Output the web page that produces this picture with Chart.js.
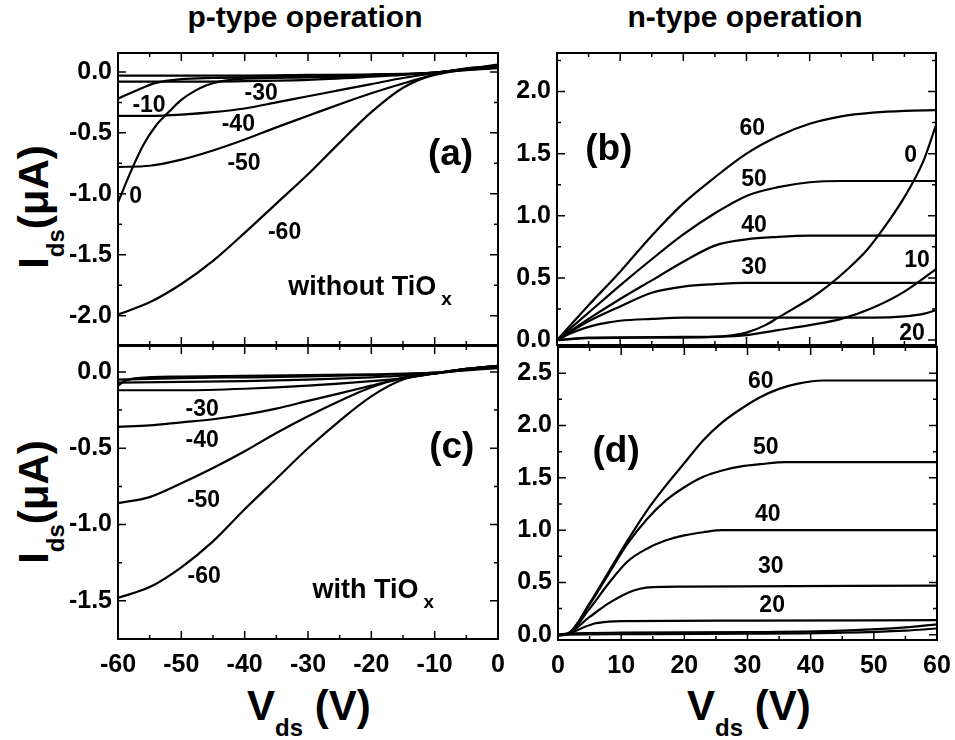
<!DOCTYPE html>
<html>
<head>
<meta charset="utf-8">
<script src="https://cdn.jsdelivr.net/npm/chart.js@4.4.0/dist/chart.umd.min.js"></script>
<style>
  body { margin: 0; background: #fff; width: 955px; height: 740px; position: relative; overflow: hidden;
         font-family: "Liberation Sans", Arial, sans-serif; font-weight: bold; color: #000; }
  canvas { position: absolute; }
  .txt { position: absolute; white-space: nowrap; line-height: 1; }
  .col { font-size: 30px; top: 2px; transform: translateX(-50%); }
  .xt { font-size: 42px; top: 685px; }
  .xt sub, .yt sub { font-size: 24px; vertical-align: -16px; line-height: 0; }
  .yt { font-size: 42px; transform: translate(-50%, -50%) rotate(-90deg); }
</style>
</head>
<body>
<div class="txt col" style="left:305px">p-type operation</div>
<div class="txt col" style="left:745px">n-type operation</div>
<div class="txt yt" style="left:34px; top:207px">I<sub>ds</sub>(&mu;A)</div>
<div class="txt yt" style="left:34px; top:502px">I<sub>ds</sub>(&mu;A)</div>
<div class="txt xt" style="left:247px">V<sub>ds</sub> (V)</div>
<div class="txt xt" style="left:687px">V<sub>ds</sub> (V)</div>

<canvas id="chartA" width="508" height="310" style="left:0; top:40px; width:508px; height:310px"></canvas>
<canvas id="chartC" width="508" height="370" style="left:0; top:335px; width:508px; height:370px"></canvas>
<canvas id="chartB" width="450" height="310" style="left:505px; top:40px; width:450px; height:310px"></canvas>
<canvas id="chartD" width="450" height="370" style="left:505px; top:335px; width:450px; height:370px"></canvas>

<script>
// ---------- data: [Vds, Ids] pairs ----------
// (a) p-type, without TiOx, gate voltages 0 .. -60
var aVg0   = [[-60,-1.07],[-58,-0.82],[-56,-0.6],[-54,-0.44],[-52,-0.33],[-50,-0.23],[-48,-0.16],[-46,-0.11],[-44,-0.08],[-40,-0.055],[-30,-0.045],[-20,-0.03],[-10,-0.005],[-5,0.025],[0,0.06]];
var aVgM10 = [[-60,-0.22],[-57,-0.15],[-54,-0.09],[-50,-0.06],[-45,-0.05],[-40,-0.045],[-30,-0.04],[-20,-0.03],[-10,-0.005],[-5,0.02],[0,0.04]];
var aVgM20 = [[-60,-0.03],[-50,-0.03],[-40,-0.03],[-30,-0.025],[-20,-0.02],[-10,-0.005],[-5,0.015],[0,0.03]];
var aVgM30 = [[-60,-0.08],[-50,-0.08],[-40,-0.075],[-30,-0.065],[-20,-0.04],[-15,-0.025],[-10,-0.005],[-5,0.02],[0,0.04]];
var aVgM40 = [[-60,-0.36],[-55,-0.36],[-50,-0.35],[-45,-0.33],[-40,-0.3],[-35,-0.25],[-30,-0.2],[-25,-0.15],[-20,-0.1],[-15,-0.05],[-10,-0.01],[-5,0.02],[0,0.04]];
var aVgM50 = [[-60,-0.78],[-55,-0.77],[-50,-0.72],[-45,-0.645],[-40,-0.555],[-35,-0.455],[-30,-0.36],[-25,-0.265],[-20,-0.175],[-15,-0.095],[-10,-0.025],[-5,0.02],[0,0.04]];
var aVgM60 = [[-60,-1.99],[-55,-1.89],[-50,-1.74],[-45,-1.55],[-40,-1.32],[-35,-1.08],[-30,-0.84],[-25,-0.58],[-20,-0.33],[-15,-0.13],[-10,-0.02],[-5,0.03],[0,0.05]];

// (c) p-type, with TiOx
var cVg0   = [[-60,-0.09],[-59,-0.06],[-57,-0.04],[-50,-0.03],[-40,-0.025],[-30,-0.02],[-20,-0.015],[-10,-0.005],[-5,0.01],[0,0.025]];
var cVgM10 = [[-60,-0.05],[-50,-0.04],[-40,-0.035],[-30,-0.03],[-20,-0.02],[-10,-0.005],[-5,0.015],[0,0.03]];
var cVgM20 = [[-60,-0.07],[-50,-0.065],[-40,-0.06],[-30,-0.05],[-20,-0.035],[-15,-0.025],[-10,-0.01],[-5,0.015],[0,0.035]];
var cVgM30 = [[-60,-0.12],[-50,-0.12],[-40,-0.11],[-30,-0.09],[-20,-0.06],[-15,-0.04],[-10,-0.01],[-5,0.02],[0,0.04]];
var cVgM40 = [[-60,-0.36],[-55,-0.35],[-50,-0.33],[-45,-0.31],[-40,-0.28],[-35,-0.24],[-30,-0.19],[-25,-0.14],[-20,-0.09],[-15,-0.04],[-10,-0.01],[-5,0.02],[0,0.04]];
var cVgM50 = [[-60,-0.86],[-55,-0.82],[-50,-0.73],[-45,-0.63],[-40,-0.52],[-35,-0.4],[-30,-0.29],[-25,-0.19],[-20,-0.1],[-15,-0.04],[-10,-0.01],[-5,0.02],[0,0.04]];
var cVgM60 = [[-60,-1.48],[-55,-1.41],[-50,-1.28],[-45,-1.11],[-40,-0.9],[-35,-0.7],[-30,-0.5],[-25,-0.32],[-20,-0.16],[-15,-0.05],[-10,-0.01],[-5,0.02],[0,0.04]];

// (b) n-type, without TiOx, gate voltages 0 .. 60
var bVg0  = [[0,0],[5,0.02],[20,0.025],[26,0.03],[28,0.04],[30,0.06],[33,0.12],[35,0.18],[38,0.27],[40,0.33],[43,0.44],[46,0.57],[49,0.72],[52,0.92],[55,1.15],[58,1.44],[60,1.73]];
var bVg10 = [[0,0],[5,0.015],[20,0.02],[25,0.025],[30,0.04],[35,0.08],[40,0.12],[45,0.17],[50,0.26],[55,0.39],[60,0.57]];
var bVg20 = [[0,0],[2,0.05],[4,0.09],[6,0.12],[8,0.14],[10,0.155],[15,0.17],[20,0.18],[50,0.18],[55,0.19],[58,0.21],[60,0.24]];
var bVg30 = [[0,0],[5,0.15],[10,0.27],[15,0.38],[20,0.43],[25,0.45],[30,0.46],[60,0.46]];
var bVg40 = [[0,0],[5,0.17],[10,0.33],[15,0.48],[20,0.63],[25,0.76],[30,0.81],[35,0.83],[40,0.84],[60,0.84]];
var bVg50 = [[0,0],[5,0.22],[10,0.44],[15,0.65],[20,0.85],[25,1.02],[30,1.16],[35,1.23],[40,1.27],[45,1.28],[60,1.28]];
var bVg60 = [[0,0],[5,0.28],[10,0.55],[15,0.84],[20,1.1],[25,1.31],[30,1.5],[35,1.64],[40,1.74],[45,1.8],[50,1.83],[55,1.845],[60,1.85]];

// (d) n-type, with TiOx
var dVg0  = [[0,-0.01],[1.5,0],[10,0.005],[30,0.01],[45,0.02],[55,0.04],[60,0.06]];
var dVg10 = [[0,0],[1.5,0.01],[10,0.02],[30,0.025],[45,0.04],[55,0.07],[60,0.1]];
var dVg20 = [[0,0],[1.5,0.005],[4,0.07],[6,0.11],[8,0.125],[10,0.13],[30,0.135],[60,0.14]];
var dVg30 = [[0,0],[1.5,0.01],[5,0.17],[8,0.3],[11,0.4],[13,0.44],[15,0.455],[20,0.46],[60,0.47]];
var dVg40 = [[0,0],[1.5,0.01],[5,0.25],[8,0.49],[11,0.7],[14,0.82],[17,0.9],[20,0.95],[23,0.98],[26,1.0],[60,1.0]];
var dVg50 = [[0,0],[1.5,0.01],[5,0.29],[8,0.58],[11,0.87],[14,1.1],[17,1.28],[20,1.41],[23,1.51],[26,1.57],[29,1.61],[32,1.63],[36,1.65],[60,1.65]];
var dVg60 = [[0,0],[1.5,0.01],[5,0.3],[8,0.6],[11,0.9],[14,1.18],[17,1.42],[20,1.64],[23,1.86],[26,2.03],[29,2.16],[32,2.27],[35,2.35],[38,2.4],[42,2.43],[60,2.43]];

// tick labels
var pTypeXTicks = [-60, -50, -40, -30, -20, -10, 0];
var nTypeXTicks = [0, 10, 20, 30, 40, 50, 60];
var aYTicks = [-2.0, -1.5, -1.0, -0.5, 0.0];
var cYTicks = [-1.5, -1.0, -0.5, 0.0];
var bYTicks = [0.0, 0.5, 1.0, 1.5, 2.0];
var dYTicks = [0.0, 0.5, 1.0, 1.5, 2.0, 2.5];

var FONT = 'Liberation Sans';

// frame with inward major/minor ticks on all four sides
var framePlugin = {
  id: 'frame',
  afterDatasetsDraw(chart, args, opts) {
    var ctx = chart.ctx, a = chart.chartArea;
    var xs = chart.scales.x, ys = chart.scales.y;
    ctx.save();
    ctx.strokeStyle = '#000';
    ctx.lineWidth = 2;
    ctx.strokeRect(a.left, a.top, a.right - a.left, a.bottom - a.top);
    ctx.lineWidth = 1.5;
    ctx.beginPath();
    var v, px, len;
    for (v = Math.ceil(xs.min / opts.xMinor) * opts.xMinor; v <= xs.max + 1e-9; v += opts.xMinor) {
      px = xs.getPixelForValue(v);
      len = Math.abs(v / opts.xMajor - Math.round(v / opts.xMajor)) < 1e-6 ? 8 : 4;
      ctx.moveTo(px, a.bottom); ctx.lineTo(px, a.bottom - len);
      ctx.moveTo(px, a.top); ctx.lineTo(px, a.top + len);
    }
    for (v = Math.ceil(ys.min / opts.yMinor) * opts.yMinor; v <= ys.max + 1e-9; v += opts.yMinor) {
      px = ys.getPixelForValue(v);
      len = Math.abs(v / opts.yMajor - Math.round(v / opts.yMajor)) < 1e-6 ? 8 : 4;
      ctx.moveTo(a.left, px); ctx.lineTo(a.left + len, px);
      ctx.moveTo(a.right, px); ctx.lineTo(a.right - len, px);
    }
    ctx.stroke();
    ctx.restore();
  }
};

// curve labels, panel letters, sample notes
var notesPlugin = {
  id: 'notes',
  afterDatasetsDraw(chart, args, opts) {
    var ctx = chart.ctx, xs = chart.scales.x, ys = chart.scales.y;
    ctx.save();
    ctx.fillStyle = '#000';
    (opts.items || []).forEach(function (n) {
      var px = xs.getPixelForValue(n.x), py = ys.getPixelForValue(n.y);
      ctx.font = 'bold ' + n.size + 'px "' + FONT + '"';
      ctx.textAlign = n.sub ? 'left' : 'center';
      ctx.textBaseline = n.sub ? 'alphabetic' : 'middle';
      ctx.fillText(n.t, px, py);
      if (n.sub) {
        var w = ctx.measureText(n.t).width;
        ctx.font = 'bold ' + Math.round(n.size * 0.7) + 'px "' + FONT + '"';
        ctx.fillText(n.sub, px + w + 5, py + 10);
      }
    });
    ctx.restore();
  }
};

function curve(points) {
  return {
    data: points.map(function (p) { return { x: p[0], y: p[1] }; }),
    borderColor: '#000',
    borderWidth: 2.2,
    pointRadius: 0,
    fill: false,
    cubicInterpolationMode: 'monotone'
  };
}

function makePanel(id, curves, xRange, yRange, xTicks, yTicks, showX, yWidth, pad, notes) {
  var tickFont = { family: FONT, size: 25, weight: 'bold' };
  return new Chart(document.getElementById(id), {
    type: 'line',
    data: { datasets: curves.map(curve) },
    options: {
      responsive: false,
      animation: false,
      devicePixelRatio: 1,
      layout: { padding: pad },
      plugins: {
        legend: { display: false },
        tooltip: { enabled: false },
        frame: { xMajor: 10, xMinor: 5, yMajor: 0.5, yMinor: 0.25 },
        notes: { items: notes }
      },
      scales: {
        x: {
          type: 'linear', min: xRange[0], max: xRange[1], display: showX,
          grid: { display: false, drawTicks: false }, border: { display: false },
          ticks: { font: tickFont, color: '#000', padding: 11, maxRotation: 0, autoSkip: false,
                   callback: function (v) { return String(v); } },
          afterBuildTicks: function (s) { s.ticks = xTicks.map(function (v) { return { value: v }; }); },
          afterFit: function (s) {
            if (!showX) return;
            s.height = 50;
            s.paddingLeft = 0; s.paddingRight = 0;
          }
        },
        y: {
          type: 'linear', min: yRange[0], max: yRange[1],
          grid: { display: false, drawTicks: false }, border: { display: false },
          ticks: { font: tickFont, color: '#000', padding: 6, autoSkip: false,
                   callback: function (v) { return v.toFixed(1); } },
          afterBuildTicks: function (s) { s.ticks = yTicks.map(function (v) { return { value: v }; }); },
          afterFit: function (s) {
            s.width = yWidth;
            s.paddingTop = 0; s.paddingBottom = 0;
          }
        }
      }
    },
    plugins: [framePlugin, notesPlugin]
  });
}

makePanel('chartA', [aVg0, aVgM10, aVgM20, aVgM30, aVgM40, aVgM50, aVgM60],
  [-60, 0], [-2.24, 0.155], pTypeXTicks, aYTicks, false, 60,
  { left: 58, top: 13, right: 10, bottom: 5 },
  [
    { t: '-10', x: -55.1, y: -0.28, size: 23 },
    { t: '-30', x: -37.4, y: -0.18, size: 23 },
    { t: '-40', x: -41.0, y: -0.43, size: 23 },
    { t: '-50', x: -40.1, y: -0.75, size: 23 },
    { t: '0', x: -57.2, y: -1.02, size: 23 },
    { t: '-60', x: -33.7, y: -1.32, size: 23 },
    { t: '(a)', x: -7.5, y: -0.68, size: 37 },
    { t: 'without TiO', sub: 'x', x: -33.1, y: -1.83, size: 27 }
  ]);

makePanel('chartC', [cVg0, cVgM10, cVgM20, cVgM30, cVgM40, cVgM50, cVgM60],
  [-60, 0], [-1.75, 0.17], pTypeXTicks, cYTicks, true, 60,
  { left: 58, top: 11, right: 10, bottom: 16 },
  [
    { t: '-30', x: -46.7, y: -0.25, size: 23 },
    { t: '-40', x: -46.7, y: -0.45, size: 23 },
    { t: '-50', x: -46.5, y: -0.845, size: 23 },
    { t: '-60', x: -46.4, y: -1.34, size: 23 },
    { t: '(c)', x: -7.3, y: -0.5, size: 37 },
    { t: 'with TiO', sub: 'x', x: -29.3, y: -1.48, size: 27 }
  ]);

makePanel('chartB', [bVg0, bVg10, bVg20, bVg30, bVg40, bVg50, bVg60],
  [0, 60], [-0.04, 2.31], nTypeXTicks, bYTicks, false, 50,
  { left: 2, top: 13, right: 19, bottom: 5 },
  [
    { t: '60', x: 30.9, y: 1.70, size: 23 },
    { t: '50', x: 31.2, y: 1.29, size: 23 },
    { t: '40', x: 31.2, y: 0.92, size: 23 },
    { t: '30', x: 31.2, y: 0.58, size: 23 },
    { t: '0', x: 56.0, y: 1.48, size: 23 },
    { t: '10', x: 57.0, y: 0.64, size: 23 },
    { t: '20', x: 56.2, y: 0.05, size: 23 },
    { t: '(b)', x: 8.2, y: 1.53, size: 37 }
  ]);

makePanel('chartD', [dVg0, dVg10, dVg20, dVg30, dVg40, dVg50, dVg60],
  [0, 60], [-0.05, 2.75], nTypeXTicks, dYTicks, true, 50,
  { left: 3, top: 12, right: 18, bottom: 15 },
  [
    { t: '60', x: 32.1, y: 2.42, size: 23 },
    { t: '50', x: 32.9, y: 1.79, size: 23 },
    { t: '40', x: 33.2, y: 1.15, size: 23 },
    { t: '30', x: 33.7, y: 0.65, size: 23 },
    { t: '20', x: 33.9, y: 0.28, size: 23 },
    { t: '(d)', x: 9.2, y: 1.75, size: 37 }
  ]);
</script>
</body>
</html>
